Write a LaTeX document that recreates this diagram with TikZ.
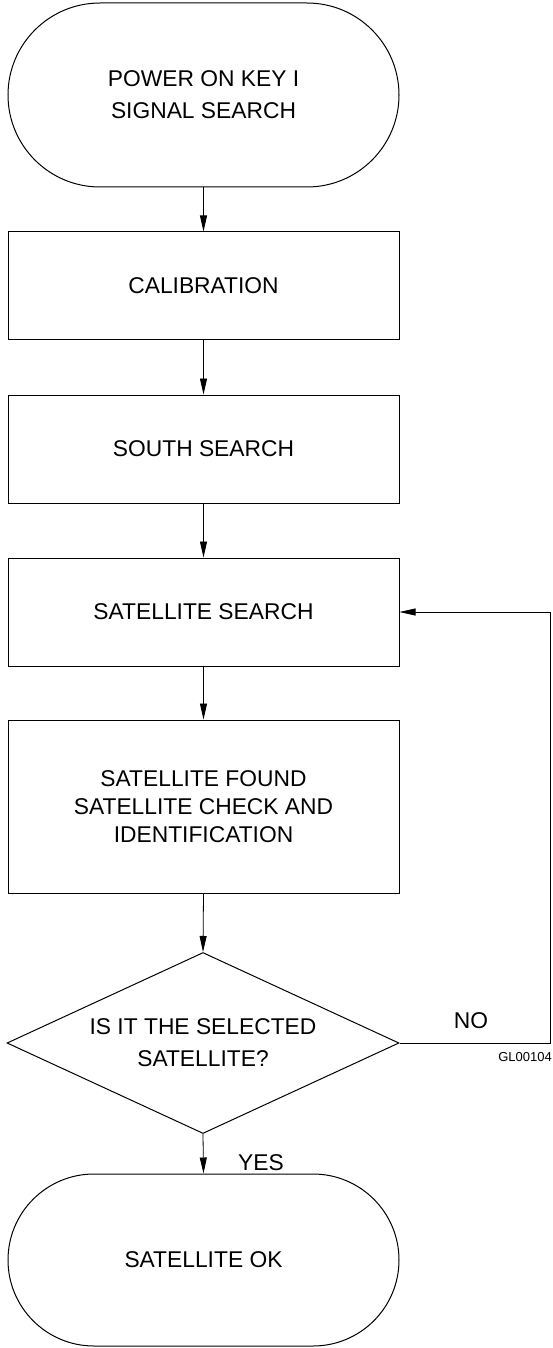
\documentclass[tikz,border=0pt]{standalone}
\usepackage{fontspec}
\setmainfont{Liberation Sans}
\usetikzlibrary{arrows.meta,shapes.misc,shapes.geometric}
\begin{document}
\begin{tikzpicture}[x=1pt,y=-1pt,
  txt/.style={font=\fontsize{22.8}{28}\selectfont, align=center},
  term/.style={draw, line width=1pt, rounded rectangle, minimum width=391pt, inner sep=0pt, txt},
  stepbox/.style={draw, line width=1pt, rectangle, minimum width=391pt, inner sep=0pt, txt},
  decide/.style={draw, line width=1pt, diamond, shape aspect=2.17, minimum width=392pt, minimum height=181pt, inner sep=0pt, txt},
  flow/.style={draw, line width=0.8pt, -{Triangle[length=16pt,width=7pt]}},
  lbl/.style={font=\fontsize{22.8}{28}\selectfont}
]
\useasboundingbox (0,0) rectangle (552,1348);
\node[term, minimum height=184pt, font=\fontsize{22.8}{32}\selectfont] (start) at (203.5,95) {POWER ON KEY I\\SIGNAL SEARCH};
\node[stepbox, minimum height=107pt] (calib) at (203.5,285.5) {CALIBRATION};
\node[stepbox, minimum height=108pt] (south) at (203.5,449) {SOUTH SEARCH};
\node[stepbox, minimum height=108pt] (sats) at (203.5,612) {SATELLITE SEARCH};
\node[stepbox, minimum height=173pt] (found) at (203.5,806.5) {SATELLITE FOUND\\SATELLITE CHECK AND\\IDENTIFICATION};
\node[decide, font=\fontsize{22.8}{32}\selectfont] (dia) at (203,1043) {IS IT THE SELECTED\\SATELLITE?};
\node[term, minimum height=172pt] (finish) at (203.5,1260) {SATELLITE OK};
\coordinate (lp) at (550,1043);
\draw[flow] (start.south) -- (calib.north);
\draw[flow] (calib.south) -- (south.north);
\draw[flow] (south.south) -- (sats.north);
\draw[flow] (sats.south) -- (found.north);
\draw[flow] (found.south) -- (dia.north);
\draw[flow] (dia.south) -- (finish.north);
\draw[flow] (dia.east) -- (lp) |- (sats.east);
\node[lbl] (yes) at (261,1163) {YES};
\node[lbl] (no) at (471,1021) {NO};
\node[font=\fontsize{13}{15}\selectfont] (gl) at (525,1057) {GL00104};
\end{tikzpicture}
\end{document}
